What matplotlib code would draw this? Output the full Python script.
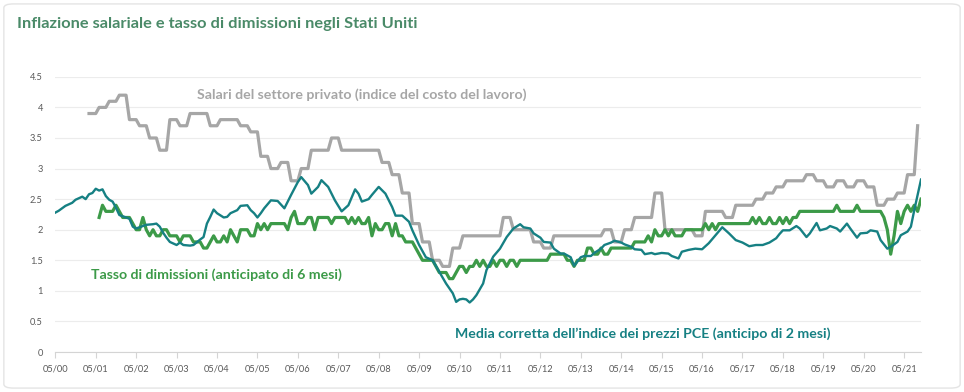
import numpy as np
import matplotlib
matplotlib.use("Agg")
import matplotlib.pyplot as plt
from matplotlib.patches import FancyBboxPatch

plt.rcParams['font.family'] = ['Lato', 'DejaVu Sans']

# x values are months counted from May 2000 (0 = 05/00)
first_year = 2000
n_years = 22

# Private-sector wages (ECI), quarterly values, first quarter starts at month 10
eci_start = 10
eci_quarterly = [3.9, 4.0, 4.1, 4.2, 3.8, 3.7, 3.5, 3.3, 3.8, 3.7,
                 3.9, 3.9, 3.7, 3.8, 3.8, 3.7, 3.6, 3.2, 3.0, 3.1,
                 2.8, 3.0, 3.3, 3.3, 3.5, 3.3, 3.3, 3.3, 3.3, 3.1,
                 2.9, 2.6, 2.1, 1.8, 1.5, 1.4, 1.7, 1.9, 1.9, 1.9,
                 1.9, 2.2, 2.0, 2.0, 1.8, 1.7, 1.9, 1.9, 1.9, 1.9,
                 1.9, 2.0, 1.8, 2.0, 2.2, 2.2, 2.6, 2.0, 2.0, 2.0,
                 1.9, 2.3, 2.3, 2.2, 2.4, 2.4, 2.5, 2.6, 2.7, 2.8,
                 2.8, 2.9, 2.8, 2.7, 2.8, 2.7, 2.8, 2.7, 2.4, 2.5,
                 2.6, 2.9]
eci_last = 3.7

# Trimmed mean PCE (2-month lead)
pce_months = [0, 1, 3, 5, 6, 8, 9, 10, 11, 12, 13, 14, 15, 16, 17, 18, 19,
              20, 22, 23, 24, 26, 27, 29, 30, 31, 32, 33, 34, 36, 37, 38, 40,
              41, 43, 44, 45, 46, 47, 48, 50, 51, 52, 54, 55, 57, 58, 59, 60,
              61, 62, 64, 66, 68, 70, 72, 73, 75, 76, 78, 79, 81, 83, 85, 87,
              89, 90, 91, 93, 94, 96, 98, 100, 101, 103, 105, 106, 108, 110,
              112, 114, 116, 118, 119, 120, 121, 122, 123, 124, 125, 127, 128,
              130, 132, 134, 136, 138, 139, 141, 142, 144, 145, 147, 148, 150,
              151, 153, 154, 156, 157, 159, 160, 162, 163, 165, 166, 168, 169,
              171, 172, 174, 175, 177, 178, 180, 182, 183, 185, 186, 188, 190,
              192, 194, 196, 198, 200, 202, 204, 206, 208, 210, 212, 214, 215,
              216, 218, 220, 221, 223, 224, 226, 227, 229, 230, 232, 233, 235,
              236, 238, 239, 241, 242, 244, 245, 247, 248, 250, 251, 253, 254,
              255, 257]
pce_values = [2.28, 2.31, 2.39, 2.44, 2.49, 2.54, 2.50, 2.58, 2.60, 2.67, 2.64,
              2.66, 2.55, 2.49, 2.46, 2.36, 2.24, 2.22, 2.18, 2.05, 2.02, 2.06,
              2.08, 2.09, 2.10, 2.05, 1.95, 1.87, 1.80, 1.75, 1.79, 1.75, 1.74,
              1.75, 1.84, 1.88, 2.10, 2.21, 2.33, 2.27, 2.20, 2.21, 2.27, 2.32,
              2.39, 2.40, 2.32, 2.27, 2.20, 2.27, 2.35, 2.48, 2.47, 2.35, 2.57,
              2.78, 2.86, 2.73, 2.59, 2.70, 2.81, 2.70, 2.48, 2.30, 2.40, 2.66,
              2.59, 2.46, 2.50, 2.57, 2.70, 2.59, 2.37, 2.23, 2.23, 2.13, 1.99,
              1.75, 1.55, 1.50, 1.31, 1.12, 0.96, 0.82, 0.86, 0.87, 0.86, 0.81,
              0.86, 0.93, 1.12, 1.34, 1.56, 1.69, 1.88, 2.02, 2.09, 2.04, 2.02,
              1.94, 1.87, 1.80, 1.79, 1.69, 1.61, 1.61, 1.55, 1.41, 1.55, 1.57,
              1.57, 1.62, 1.69, 1.75, 1.79, 1.82, 1.79, 1.76, 1.72, 1.68, 1.67,
              1.60, 1.62, 1.60, 1.62, 1.61, 1.57, 1.53, 1.64, 1.67, 1.69, 1.68,
              1.78, 1.91, 2.04, 1.94, 1.83, 1.79, 1.73, 1.75, 1.75, 1.79, 1.86,
              1.93, 1.99, 1.99, 2.06, 2.02, 1.88, 1.94, 2.11, 1.99, 2.02, 2.06,
              2.02, 1.97, 2.10, 2.02, 1.87, 1.94, 1.95, 1.99, 1.97, 1.83, 1.69,
              1.72, 1.80, 1.91, 1.97, 2.05, 2.32, 2.82]

# Quit rate (6-month lead), monthly from month 13
quit_start = 13
quit_values = [2.2, 2.4, 2.3, 2.3, 2.3, 2.4, 2.3, 2.2, 2.2, 2.2, 2.1, 2.0, 2.0,
               2.2, 2.0, 1.9, 2.0, 1.9, 1.9, 2.0, 2.0, 1.9, 1.9, 1.9, 1.8, 1.9,
               1.9, 1.9, 1.8, 1.8, 1.8, 1.7, 1.7, 1.8, 1.9, 1.8, 1.8, 1.9, 1.8,
               2.0, 1.9, 1.8, 2.0, 2.0, 2.0, 1.9, 1.9, 2.1, 2.0, 2.1, 2.0, 2.1,
               2.1, 2.1, 2.1, 2.1, 2.0, 2.2, 2.3, 2.1, 2.1, 2.1, 2.2, 2.2, 2.0,
               2.2, 2.2, 2.2, 2.2, 2.1, 2.2, 2.2, 2.2, 2.2, 2.1, 2.2, 2.1, 2.2,
               2.1, 2.1, 2.2, 1.9, 2.1, 2.0, 2.0, 2.1, 2.1, 1.9, 2.1, 1.9, 1.9,
               1.8, 1.8, 1.8, 1.7, 1.6, 1.5, 1.5, 1.5, 1.5, 1.4, 1.3, 1.3, 1.3,
               1.2, 1.2, 1.3, 1.4, 1.4, 1.3, 1.4, 1.4, 1.5, 1.4, 1.5, 1.4, 1.4,
               1.5, 1.4, 1.5, 1.5, 1.4, 1.5, 1.5, 1.4, 1.5, 1.5, 1.5, 1.5, 1.5,
               1.5, 1.5, 1.5, 1.5, 1.6, 1.6, 1.6, 1.6, 1.6, 1.5, 1.5, 1.4, 1.5,
               1.5, 1.5, 1.7, 1.7, 1.6, 1.6, 1.7, 1.6, 1.6, 1.7, 1.7, 1.7, 1.7,
               1.7, 1.7, 1.7, 1.8, 1.8, 1.8, 1.8, 1.9, 1.8, 2.0, 1.9, 1.9, 2.0,
               1.9, 2.0, 1.9, 1.9, 1.9, 2.0, 2.0, 2.0, 2.0, 2.0, 2.0,
               2.1, 2.0, 2.1, 2.0, 2.1, 2.1, 2.1, 2.1, 2.1, 2.1, 2.1, 2.1, 2.1,
               2.1, 2.2, 2.1, 2.2, 2.1, 2.1, 2.2, 2.1, 2.1, 2.2, 2.1, 2.2, 2.1,
               2.2, 2.2, 2.3, 2.3, 2.3, 2.3, 2.3, 2.3, 2.3, 2.3, 2.3, 2.3, 2.3,
               2.4, 2.3, 2.3, 2.3, 2.3, 2.3, 2.4, 2.3, 2.3, 2.3, 2.3, 2.3, 2.3,
               2.3, 2.2, 2.0, 1.6, 1.9, 2.3, 2.1, 2.3, 2.4, 2.3, 2.4, 2.3, 2.5]

gray = '#a6a6a6'
green = '#3c9a48'
teal = '#168083'
title_col = '#4a8a68'

# expand the quarterly wage series to the monthly axis
eci_values = list(np.repeat(eci_quarterly, 3)) + [eci_last]
eci_months = list(range(eci_start, eci_start + len(eci_values)))
quit_months = list(range(quit_start, quit_start + len(quit_values)))

fig = plt.figure(figsize=(9.64, 3.92), dpi=100)
# light card border behind everything
card = FancyBboxPatch((0.004, 0.01), 0.992, 0.98,
                      boxstyle='round,pad=0,rounding_size=0.01',
                      transform=fig.transFigure, fc='white',
                      ec='#e4e4e4', lw=1, zorder=-10)
fig.patches.append(card)
ax = fig.add_axes([0.0574, 0.102, 0.898, 0.702])
ax.patch.set_alpha(0)

ax.plot(eci_months, eci_values, color=gray, lw=2.3)
ax.plot(quit_months, quit_values, color=green, lw=2.3)
ax.plot(pce_months, pce_values, color=teal, lw=1.7)

ax.set_xlim(0, 257)
ax.set_ylim(0, 4.5)
ax.set_yticks(np.arange(0, 4.51, 0.5))
ax.set_yticklabels(['0', '0.5', '1', '1.5', '2', '2.5', '3', '3.5', '4', '4.5'])
ax.set_xticks([12 * i for i in range(n_years)])
ax.set_xticklabels(['05/%02d' % ((first_year + i) % 100) for i in range(n_years)])
ax.grid(axis='y', color='#ececec', lw=0.8)
ax.set_axisbelow(True)
for s in ['top', 'right', 'left']:
    ax.spines[s].set_visible(False)
ax.spines['bottom'].set_color('#d4d4d4')
ax.tick_params(axis='y', length=0, pad=9, labelsize=6.7, labelcolor='#595959')
ax.tick_params(axis='x', length=4, color='#d4d4d4', pad=5, labelsize=6.7,
               labelcolor='#595959')

ax.text(42, 4.21, 'Salari del settore privato (indice del costo del lavoro)',
        color=gray, fontsize=10.2, fontweight='bold', va='center')
ax.text(10.5, 1.27, 'Tasso di dimissioni (anticipato di 6 mesi)',
        color=green, fontsize=10.2, fontweight='bold', va='center')
ax.text(118.6, 0.3, 'Media corretta dell\u2019indice dei prezzi PCE (anticipo di 2 mesi)',
        color=teal, fontsize=10.2, fontweight='bold', va='center')

fig.text(0.0176, 0.939, 'Inflazione salariale e tasso di dimissioni negli Stati Uniti',
         color=title_col, fontsize=11.8, fontweight='bold', va='center')

fig.savefig('out.png', dpi=100)
